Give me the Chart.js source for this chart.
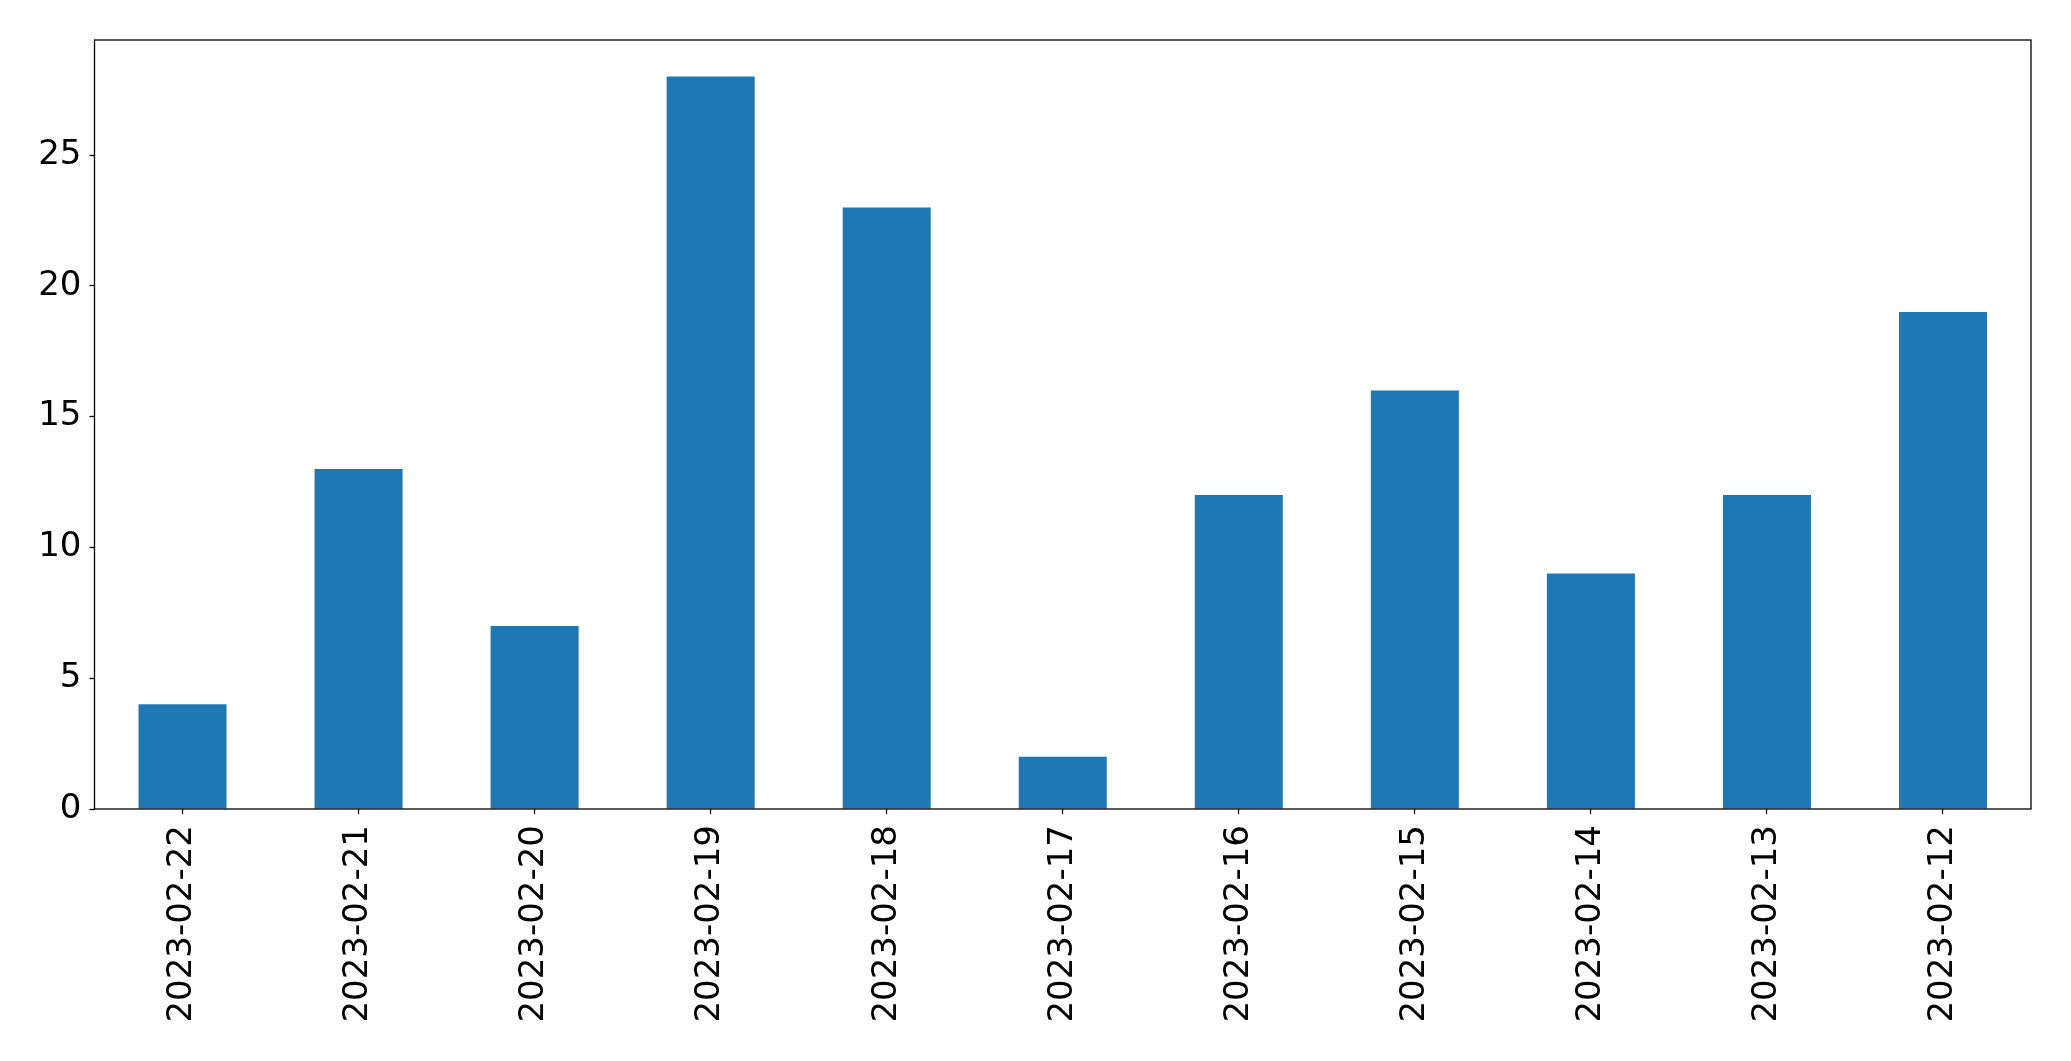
<!DOCTYPE html>
<html>
<head>
<meta charset="utf-8">
<script src="https://cdn.jsdelivr.net/npm/chart.js@4/dist/chart.umd.min.js"></script>
<style>
  body { margin: 0; background: #fff; }
  canvas { display: block; }
</style>
</head>
<body>
<canvas id="bars" width="2071" height="1061"></canvas>
<script>
const dates = ['2023-02-22', '2023-02-21', '2023-02-20', '2023-02-19', '2023-02-18', '2023-02-17',
               '2023-02-16', '2023-02-15', '2023-02-14', '2023-02-13', '2023-02-12'];
const counts = [4, 13, 7, 28, 23, 2, 12, 16, 9, 12, 19];
const yTicks = [0, 5, 10, 15, 20, 25];

// frame around the plot area, like a matplotlib axes box
const frame = {
    id: 'frame',
    afterDraw(chart) {
        const { ctx, chartArea } = chart;
        ctx.save();
        ctx.strokeStyle = '#000';
        ctx.lineWidth = 1.3;
        ctx.strokeRect(chartArea.left, chartArea.top, chartArea.right - chartArea.left, chartArea.bottom - chartArea.top);
        ctx.restore();
    }
};

const ctx = document.getElementById('bars');

new Chart(ctx, {
    type: 'bar',
    data: {
        labels: dates,
        datasets: [{
            label: '',
            data: counts,
            backgroundColor: '#1f77b4',
            borderWidth: 0,
            barPercentage: 1,
            categoryPercentage: 0.5
        }]
    },
    options: {
        responsive: false,
        animation: false,
        layout: {
            padding: { top: 40, right: 40, left: 0, bottom: 0 }
        },
        plugins: {
            legend: { display: false },
            tooltip: { enabled: false }
        },
        scales: {
            x: {
                offset: true,
                grid: {
                    display: true,
                    offset: false,
                    drawOnChartArea: false,
                    drawTicks: true,
                    tickLength: 5,
                    tickColor: '#000',
                    tickWidth: 1.3
                },
                border: { display: false },
                ticks: {
                    minRotation: 90,
                    maxRotation: 90,
                    padding: 11,
                    color: '#000',
                    font: { family: 'DejaVu Sans', size: 34 }
                },
                afterFit(scale) {
                    scale.height = 252;
                }
            },
            y: {
                min: 0,
                max: 29.4,
                grid: {
                    display: true,
                    drawOnChartArea: false,
                    drawTicks: true,
                    tickLength: 5,
                    tickColor: '#000',
                    tickWidth: 1.3
                },
                border: { display: false },
                ticks: {
                    includeBounds: false,
                    stepSize: 5,
                    padding: 8,
                    color: '#000',
                    font: { family: 'DejaVu Sans', size: 34 }
                },
                afterBuildTicks(scale) {
                    scale.ticks = yTicks.map(v => ({ value: v }));
                },
                afterFit(scale) {
                    scale.width = 94.5;
                }
            }
        }
    },
    plugins: [frame]
});
</script>
</body>
</html>
